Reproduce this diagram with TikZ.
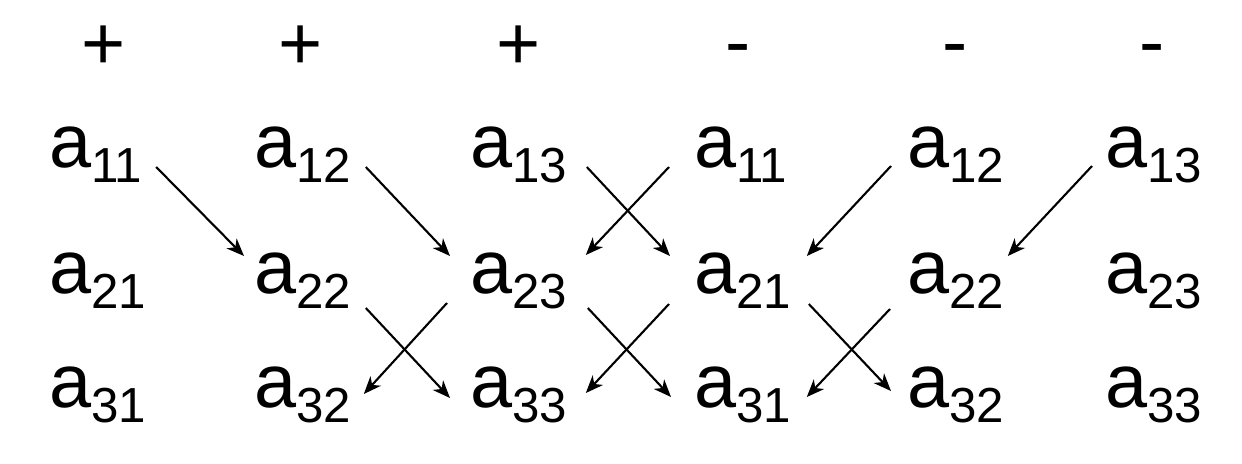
\documentclass[tikz,border=0pt]{standalone}
\usepackage{fontspec}
\setmainfont{Liberation Sans}
\usetikzlibrary{arrows.meta}
\newcommand\aij[1]{a\raisebox{-4.3pt}{\fontsize{14}{14}\selectfont #1}}
\begin{document}
\begin{tikzpicture}[x=0.01cm, y=-0.01cm,
   elem/.style={inner sep=0pt, outer sep=0pt, anchor=base west, font=\fontsize{21.5}{21.5}\selectfont},
   signo/.style={inner sep=0pt, outer sep=0pt, anchor=base, font=\fontsize{21.5}{21.5}\selectfont},
   flecha/.style={-{Stealth[length=5pt,width=4pt,inset=1.5pt]}, line width=0.6pt}]
   \useasboundingbox (0,0) rectangle (1242,463);
   %signos
   \node[signo] (s1) at (103.5,69) {+};
   \node[signo] (s2) at (301,69) {+};
   \node[signo] (s3) at (519,69) {+};
   \node[signo] (s4) at (738,67) {-};
   \node[signo] (s5) at (955,67) {-};
   \node[signo] (s6) at (1152.5,67) {-};
   %fila 1
   \node[elem] (r1c1) at (49,167) {\aij{11}};
   \node[elem] (r1c2) at (254,167) {\aij{12}};
   \node[elem] (r1c3) at (470,167) {\aij{13}};
   \node[elem] (r1c4) at (694,167) {\aij{11}};
   \node[elem] (r1c5) at (907,167) {\aij{12}};
   \node[elem] (r1c6) at (1105,167) {\aij{13}};
   %fila 2
   \node[elem] (r2c1) at (49,293) {\aij{21}};
   \node[elem] (r2c2) at (254,293) {\aij{22}};
   \node[elem] (r2c3) at (470,293) {\aij{23}};
   \node[elem] (r2c4) at (694,293) {\aij{21}};
   \node[elem] (r2c5) at (907,293) {\aij{22}};
   \node[elem] (r2c6) at (1105,293) {\aij{23}};
   %fila 3
   \node[elem] (r3c1) at (49,407) {\aij{31}};
   \node[elem] (r3c2) at (254,407) {\aij{32}};
   \node[elem] (r3c3) at (470,407) {\aij{33}};
   \node[elem] (r3c4) at (694,407) {\aij{31}};
   \node[elem] (r3c5) at (907,407) {\aij{32}};
   \node[elem] (r3c6) at (1105,407) {\aij{33}};
   %flechas fila 1 a fila 2
   \draw[flecha] ([shift={(14,0)}]r1c1.base east) -- ([shift={(-10,-37)}]r2c2.base west);
   \draw[flecha] ([shift={(15,0)}]r1c2.base east) -- ([shift={(-20,-37)}]r2c3.base west);
   \draw[flecha] ([shift={(20,0)}]r1c3.base east) -- ([shift={(-24,-37)}]r2c4.base west);
   \draw[flecha] ([shift={(-25,0)}]r1c4.base west) -- ([shift={(19,-38)}]r2c3.base east);
   \draw[flecha] ([shift={(-16,-1)}]r1c5.base west) -- ([shift={(16,-37)}]r2c4.base east);
   \draw[flecha] ([shift={(-13,-1)}]r1c6.base west) -- ([shift={(4,-37)}]r2c5.base east);
   %flechas fila 2 a fila 3
   \draw[flecha] ([shift={(15,15)}]r2c2.base east) -- ([shift={(-20,-9)}]r3c3.base west);
   \draw[flecha] ([shift={(-23,10)}]r2c3.base west) -- ([shift={(13,-13)}]r3c2.base east);
   \draw[flecha] ([shift={(21,15)}]r2c3.base east) -- ([shift={(-23,-10)}]r3c4.base west);
   \draw[flecha] ([shift={(-25,11)}]r2c4.base west) -- ([shift={(19,-14)}]r3c3.base east);
   \draw[flecha] ([shift={(18,11)}]r2c4.base east) -- ([shift={(-16,-16)}]r3c5.base west);
   \draw[flecha] ([shift={(-17,16)}]r2c5.base west) -- ([shift={(16,-10)}]r3c4.base east);
\end{tikzpicture}
\end{document}
